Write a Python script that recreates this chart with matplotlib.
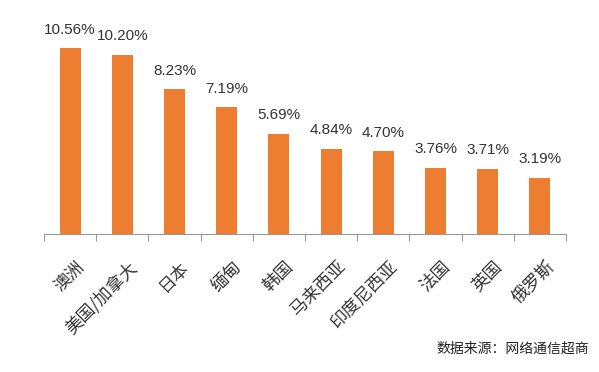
import numpy as np
import matplotlib.pyplot as plt
import matplotlib
import matplotlib.transforms as mtransforms
matplotlib.rcParams['font.family'] = ['Noto Sans CJK SC', 'DejaVu Sans']

countries = ['澳洲', '美国/加拿大', '日本', '缅甸', '韩国', '马来西亚', '印度尼西亚', '法国', '英国', '俄罗斯']
shares = [10.56, 10.20, 8.23, 7.19, 5.69, 4.84, 4.70, 3.76, 3.71, 3.19]
value_labels = ['10.56%', '10.20%', '8.23%', '7.19%', '5.69%', '4.84%', '4.70%', '3.76%', '3.71%', '3.19%']

fig = plt.figure(figsize=(5.99, 3.72), dpi=100)
ax = fig.add_axes([44/599, (372-234)/372, (566-44)/599, 234/372])

x = np.arange(len(countries))
ax.bar(x, shares, width=0.4, color='#ED7D31')
for xi, v, s in zip(x, shares, value_labels):
    ax.text(xi, v + 0.65, s, ha='center', va='bottom', fontsize=11, color='#333333',
            family=['Liberation Sans', 'DejaVu Sans'])

ax.set_xlim(-0.5, len(countries) - 0.5)
ax.set_ylim(0, 13.3)
ax.set_yticks([])
for sp in ['top', 'right', 'left']:
    ax.spines[sp].set_visible(False)
ax.spines['bottom'].set_color('#999999')
ax.spines['bottom'].set_linewidth(0.8)

# ticks at category boundaries
ax.set_xticks(np.arange(-0.5, len(countries)), minor=False)
ax.set_xticklabels([])
ax.tick_params(axis='x', length=5, color='#999999', width=0.8)
ax.set_xticks(x, minor=True)
ax.set_xticklabels(countries, minor=True, rotation=45, ha='right', va='top',
                   rotation_mode='anchor', fontsize=12.5, color='#333333')
ax.tick_params(axis='x', which='minor', length=0, pad=17)
shift = mtransforms.ScaledTranslation(4/72, 0, fig.dpi_scale_trans)
for lab in ax.get_xticklabels(minor=True):
    lab.set_transform(lab.get_transform() + shift)

fig.text(589/599, 1 - 349/372, '数据来源：网络通信超商', ha='right', va='center', fontsize=10, color='#222222')

plt.savefig('out.png', dpi=100)
